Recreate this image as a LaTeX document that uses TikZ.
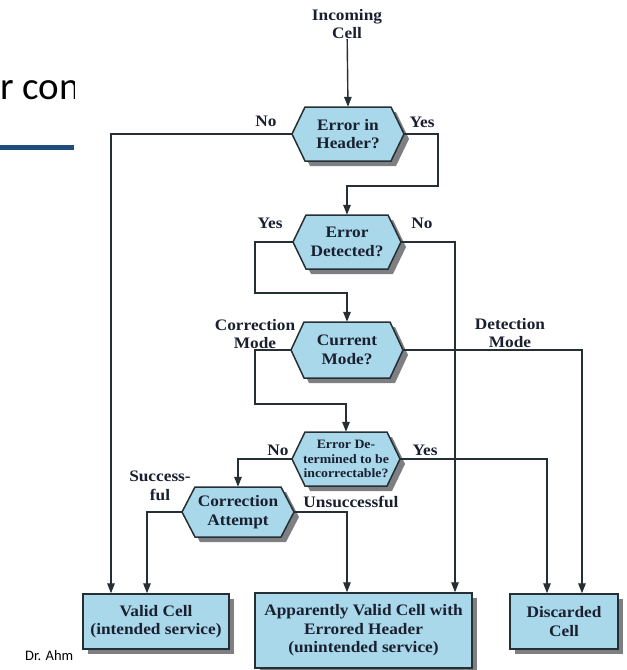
\documentclass[tikz,border=0pt]{standalone}
\usepackage{fontspec}
\setmainfont{Liberation Serif}
\newfontfamily\dfont{Liberation Serif}[FakeStretch=1.08]
\newfontfamily\sfont{Carlito}
\usetikzlibrary{arrows.meta,calc,shadows}
\definecolor{cellfill}{HTML}{A9D8EA}
\definecolor{edge}{HTML}{263034}
\definecolor{shade}{HTML}{7E7F82}
\definecolor{barblue}{HTML}{1F4E7E}
\definecolor{ink}{HTML}{1A2030}
\tikzset{
  lbl/.style={font=\dfont\bfseries\fontsize{16}{18.5}\selectfont, text=ink, align=center, inner sep=0pt},
  small/.style={font=\dfont\bfseries\fontsize{12.8}{14.5}\selectfont},
  cellshape/.style={fill=cellfill, draw=edge, line width=1.5pt, line join=miter,
    drop shadow={shadow xshift=5pt, shadow yshift=-5pt, fill=shade, opacity=1}},
  cellbox/.style={lbl, cellshape, minimum width=#1},
  conn/.style={draw=edge, line width=1.4pt, -{Triangle[length=10pt,width=7.5pt]}},
  slide/.style={inner sep=0pt, anchor=base west, text=black}
}
% #1 name, #2 cx, #3 cy, #4 half width, #5 half height, #6 extra style, #7 text
\newcommand\hexcell[7]{%
  \path[cellshape] ({#2-#4},#3) -- ({#2-#4+13},{#3-#5}) -- ({#2+#4-13},{#3-#5})
     -- ({#2+#4},#3) -- ({#2+#4-13},{#3+#5}) -- ({#2-#4+13},{#3+#5}) -- cycle;
  \node[lbl, #6, minimum width={2*#4}, minimum height={2*#5}] (#1) at (#2,#3) {#7};
}
\begin{document}
\begin{tikzpicture}[x=1pt,y=-1pt]
\useasboundingbox (0,0) rectangle (627,670);
\clip (0,0) rectangle (627,670);

% slide fragments behind the diagram
\begin{scope}
  \clip (0,0) rectangle (74,670);
  \node[slide, font=\sfont\fontsize{39}{39}\selectfont] (title) at (0,99) {r con};
  \fill[barblue] (0,145) rectangle (74,150);
  \node[slide, font=\sfont\fontsize{14.5}{14.5}\selectfont] (author) at (25,660) {Dr. Ahm};
\end{scope}

% start
\node[lbl] (incoming) at (347,24) {Incoming\\Cell};

% decision hexagons
\hexcell{h1}{348}{134}{56}{27}{}{Error in\\Header?}
\hexcell{h2}{347}{242}{54}{27}{}{Error\\Detected?}
\hexcell{h3}{347}{350}{56}{28}{}{Current\\Mode?}
\hexcell{h4}{346}{459}{54}{27}{small}{Error De-\\termined to be\\incorrectable?}
\hexcell{h5}{238}{512}{56}{25}{}{Correction\\Attempt}

% outcome boxes
\node[cellbox=146pt, minimum height=55pt] (valid) at (156,621.5) {Valid Cell\\(intended service)};
\node[cellbox=217pt, minimum height=75pt] (app) at (363.5,630.5) {Apparently Valid Cell with\\Errored Header\\(unintended service)};
\node[cellbox=108pt, minimum height=55pt] (disc) at (564,621.5) {Discarded\\Cell};

% routing points
\coordinate (a1) at (111,134);
\coordinate (a2) at (438,134);
\coordinate (a3) at (438,186);
\coordinate (b1) at (255,242);
\coordinate (b2) at (255,293);
\coordinate (b3) at (455,242);
\coordinate (c1) at (255,350);
\coordinate (c2) at (255,404);
\coordinate (c3) at (582,350);
\coordinate (d1) at (238,459);
\coordinate (d2) at (547,459);
\coordinate (e1) at (147,512);
\coordinate (e2) at (347,512);

% connectors
\draw[conn] (incoming) -- (h1.north);
\draw[conn] (h1.west) -- (a1) -- (a1 |- valid.north);
\draw[conn] (h1.east) -- (a2) -- (a3) -- (a3 -| h2.north) -- (h2.north);
\draw[conn] (h2.west) -- (b1) -- (b2) -- (b2 -| h3.north) -- (h3.north);
\draw[conn] (h2.east) -- (b3) -- (b3 |- app.north);
\draw[conn] (h3.west) -- (c1) -- (c2) -- (c2 -| h4.north) -- (h4.north);
\draw[conn] (h3.east) -- (c3) -- (c3 |- disc.north);
\draw[conn] (h4.west) -- (d1) -- (d1 |- h5.north);
\draw[conn] (h4.east) -- (d2) -- (d2 |- disc.north);
\draw[conn] (h5.west) -- (e1) -- (e1 |- valid.north);
\draw[conn] (h5.east) -- (e2) -- (e2 |- app.north);

% branch labels
\node[lbl] (l1n) at (266,121) {No};
\node[lbl] (l1y) at (422,122) {Yes};
\node[lbl] (l2y) at (270,223) {Yes};
\node[lbl] (l2n) at (422,223) {No};
\node[lbl] (l3c) at (255,334) {Correction\\Mode};
\node[lbl] (l3d) at (510,333) {Detection\\Mode};
\node[lbl] (l4n) at (278,450) {No};
\node[lbl] (l4y) at (425,450) {Yes};
\node[lbl] (l5s) at (160,486) {Success-\\ful};
\node[lbl] (l5u) at (351,502) {Unsuccessful};
\end{tikzpicture}
\end{document}
